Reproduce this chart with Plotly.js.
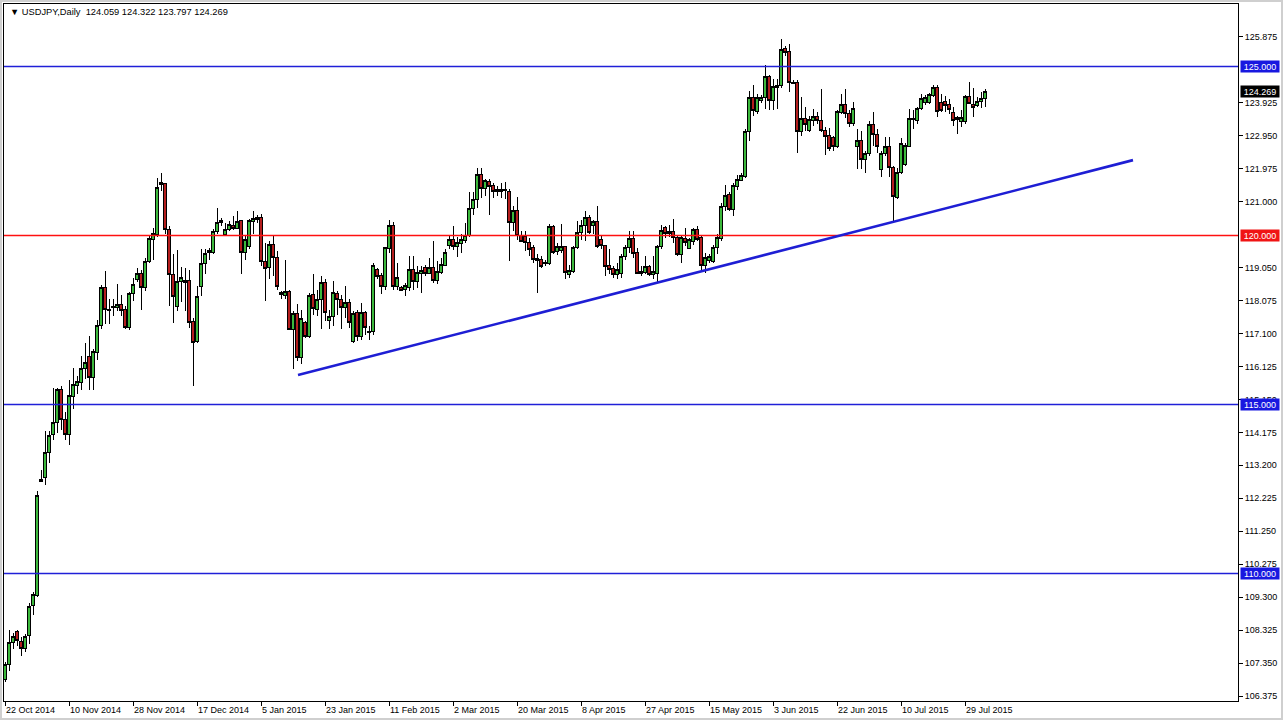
<!DOCTYPE html>
<html>
<head>
<meta charset="utf-8">
<script src="https://cdn.plot.ly/plotly-3.0.1.min.js"></script>
<style>
html,body{margin:0;padding:0;background:#cfcfcf;width:1283px;height:720px;overflow:hidden;}
#chart{position:absolute;left:2px;top:2px;width:1279px;height:716px;background:#fff;}
#chart .boxlayer path{shape-rendering:crispEdges;}
</style>
</head>
<body>
<div id="chart"></div>
<script>
const symbolName = "USDJPY,Daily";
const tickLabels = ["22 Oct 2014","10 Nov 2014","28 Nov 2014","17 Dec 2014","5 Jan 2015","23 Jan 2015","11 Feb 2015","2 Mar 2015","20 Mar 2015","8 Apr 2015","27 Apr 2015","15 May 2015","3 Jun 2015","22 Jun 2015","10 Jul 2015","29 Jul 2015"];
const tickBars = [0,16,32,48,64,80,96,112,128,144,160,176,192,208,224,240];

const open = [
106.86,107.31,107.95,108.27,107.99,107.78,108.16,109.05,109.36,112.71,
112.83,113.59,114.12,114.46,115.44,114.56,114.12,115.25,115.56,115.66,
116.06,116.41,115.79,116.55,117.34,118.47,117.79,117.86,117.88,117.96,
117.81,117.27,118.28,118.70,118.87,118.45,119.24,119.88,120.03,121.51,
121.54,120.18,118.85,117.91,118.65,118.60,118.68,117.46,116.87,118.48,
119.17,119.49,119.51,120.13,120.38,120.03,120.18,120.30,120.20,120.44,
119.51,119.67,120.42,120.47,120.52,119.24,119.04,119.73,119.34,118.30,
118.22,118.35,117.22,117.69,116.40,117.42,117.02,118.25,117.81,118.11,
118.60,117.49,117.61,118.28,118.11,117.86,118.01,116.87,117.71,117.02,
117.71,117.17,117.17,118.99,118.82,118.48,119.61,120.30,118.48,118.45,
118.40,118.45,118.99,118.65,118.89,119.06,118.89,119.06,118.68,118.91,
119.11,119.70,119.88,119.67,119.76,119.86,120.00,120.79,121.07,121.80,
121.38,121.61,121.48,121.36,121.36,121.33,121.31,120.39,120.75,120.00,
119.98,119.80,119.64,119.33,119.29,119.21,119.17,120.28,119.54,119.56,
119.67,118.85,118.94,119.64,120.08,120.30,120.52,120.30,120.42,119.88,
119.70,119.11,119.01,118.85,118.89,119.39,119.64,119.90,119.51,118.94,
118.91,119.07,118.85,118.89,119.67,120.23,120.06,120.13,119.93,119.44,
119.90,119.61,119.83,120.18,119.93,119.11,119.27,119.24,119.64,119.90,
120.87,121.21,120.77,121.46,121.64,121.76,123.09,124.09,123.68,123.98,
124.08,124.71,123.98,124.39,124.44,125.53,125.43,124.54,124.54,123.09,
123.45,123.12,123.40,123.52,123.40,123.12,122.96,122.89,122.63,123.65,
123.88,123.62,123.32,122.63,122.81,122.25,122.43,123.28,123.00,121.96,
122.43,122.63,122.01,121.12,121.86,122.10,122.64,123.42,123.40,123.77,
123.94,123.94,124.14,124.39,123.94,123.97,123.88,123.65,123.50,123.36,
123.36,124.11,123.88,123.84,123.97,124.059
];
const high = [
107.37,108.34,108.25,108.33,108.11,108.20,109.12,109.46,112.44,113.05,
114.21,114.21,115.49,115.49,115.54,114.77,115.73,116.09,115.84,116.43,
116.83,117.02,116.63,117.51,118.55,118.96,118.11,118.11,118.58,118.25,
117.91,118.32,118.75,119.04,118.99,119.34,119.98,120.23,121.71,121.86,
121.56,120.28,119.44,119.57,119.07,119.04,118.99,117.57,118.50,119.59,
119.61,119.64,120.18,120.82,120.52,120.38,120.42,120.59,120.72,120.47,
119.98,120.49,120.72,120.62,120.65,119.78,119.83,119.98,119.54,118.35,
119.29,118.40,117.76,117.96,117.81,117.46,118.30,118.85,118.40,118.80,
118.70,117.81,118.65,118.35,118.25,118.50,118.11,117.76,117.81,117.99,
117.76,117.32,119.19,119.04,118.90,119.67,120.47,120.39,119.19,118.50,
118.60,119.39,119.39,119.09,119.09,119.14,119.34,119.83,119.24,119.34,
119.59,119.98,120.28,119.96,120.03,120.38,121.28,121.28,122.00,122.00,
121.68,121.66,121.54,121.46,121.54,121.57,121.38,120.87,121.15,120.13,
120.13,119.93,119.73,119.44,119.39,119.29,120.33,120.30,119.78,120.33,
119.70,119.14,119.70,120.42,120.45,120.72,120.62,120.47,120.87,119.98,
119.73,119.59,119.09,119.19,119.44,119.73,120.13,120.13,119.64,119.09,
119.39,119.14,119.39,119.73,120.30,120.28,120.30,120.49,119.98,119.98,
120.23,119.93,120.23,120.28,119.98,119.49,119.44,119.73,120.03,120.97,
121.48,121.28,121.54,121.78,121.86,123.14,124.27,124.44,124.19,124.17,
125.04,124.74,124.64,124.62,125.82,125.62,125.67,124.59,124.59,124.09,
123.80,123.55,123.75,123.65,124.34,123.20,123.18,122.93,123.70,124.18,
124.34,123.70,123.95,123.16,123.09,122.51,123.40,123.65,123.16,122.51,
122.90,122.90,122.06,122.01,122.89,122.75,123.75,123.72,123.80,124.19,
124.16,124.21,124.44,124.44,124.19,124.14,124.05,123.80,123.55,123.72,
124.17,124.54,124.35,124.10,124.26,124.322
];
const low = [
106.78,107.11,107.76,107.86,107.57,107.67,107.91,108.78,109.31,112.70,
112.63,113.27,113.96,114.16,114.25,113.96,113.79,114.88,115.30,115.44,
115.74,115.44,115.44,116.33,117.22,117.37,117.37,117.61,117.76,117.61,
117.22,117.20,118.06,118.62,117.81,118.35,119.19,119.29,119.96,121.31,
120.03,117.91,117.42,117.76,118.03,117.76,117.27,115.54,116.82,118.22,
118.85,119.29,119.44,120.03,120.28,119.98,120.13,120.16,120.18,118.85,
119.29,119.61,120.03,120.38,119.09,118.06,118.70,118.80,118.40,118.11,
118.11,117.20,116.04,116.28,116.20,116.97,116.97,117.66,117.61,117.22,
117.46,117.22,117.32,117.66,117.22,117.56,117.27,116.82,116.87,116.92,
117.07,116.92,117.07,118.70,118.28,118.40,119.49,118.40,118.40,118.35,
118.20,118.35,118.40,118.45,118.30,118.80,118.85,118.60,118.58,118.85,
119.09,119.59,119.57,119.37,119.47,119.78,119.96,120.62,120.82,121.12,
121.18,120.62,121.12,121.18,121.12,121.09,119.24,120.13,119.88,119.80,
119.54,119.39,119.19,118.30,119.04,119.11,119.14,119.44,119.41,119.49,
118.70,118.75,118.89,119.59,119.88,119.83,120.03,120.03,119.64,119.59,
118.80,118.85,118.75,118.70,118.75,119.29,119.49,119.34,118.85,118.80,
118.85,118.80,118.70,118.60,119.59,119.93,119.96,119.78,119.39,119.19,
119.68,119.59,119.73,119.83,118.99,118.89,119.19,119.19,119.44,119.83,
120.72,120.72,120.59,121.36,121.61,121.71,122.79,123.55,123.60,123.93,
123.75,123.72,123.72,123.75,124.37,125.30,124.24,124.47,122.43,122.95,
123.10,123.05,123.25,123.30,123.05,122.37,122.49,122.49,122.59,123.58,
123.48,123.20,123.25,121.98,121.98,121.86,122.34,122.66,122.43,121.72,
122.34,121.74,120.42,121.07,121.81,122.05,122.62,123.16,123.30,123.72,
123.86,123.89,124.11,123.50,123.65,123.65,123.60,123.25,123.00,123.22,
123.30,123.88,123.50,123.80,123.77,123.797
];
const close = [
107.31,107.95,108.14,108.01,107.78,108.14,109.01,109.38,112.31,112.79,
113.59,114.09,114.46,115.44,114.56,114.12,115.28,115.59,115.69,116.06,
116.25,115.79,116.56,117.34,118.47,117.81,117.80,117.91,117.96,117.79,
117.27,118.28,118.55,118.87,118.45,119.24,119.91,120.06,121.41,121.58,
120.18,118.85,118.20,118.65,118.77,118.68,117.43,116.84,118.20,119.17,
119.46,119.56,120.13,120.38,120.44,120.18,120.33,120.20,120.42,119.51,
119.88,120.44,120.49,120.52,119.24,119.01,119.73,119.34,118.50,118.25,
118.35,117.22,117.69,116.40,117.54,117.02,118.22,117.83,118.11,118.60,
117.73,117.59,118.30,118.11,117.86,118.01,117.42,117.69,117.02,117.71,
117.27,117.12,119.11,118.80,118.48,119.64,120.30,118.50,118.75,118.38,
118.52,118.99,118.65,118.91,118.96,118.87,119.06,118.68,118.94,119.14,
119.51,119.88,119.67,119.78,119.88,120.00,120.79,121.07,121.80,121.38,
121.64,121.46,121.31,121.29,121.31,121.36,120.39,120.75,120.00,119.83,
119.78,119.59,119.29,119.27,119.09,119.17,120.28,119.49,119.66,119.67,
118.91,118.97,119.64,120.08,120.30,120.52,120.10,120.42,119.67,119.69,
119.09,118.99,118.85,118.99,119.39,119.64,119.90,119.47,118.89,118.88,
119.07,118.85,118.94,119.67,120.16,120.06,120.13,119.93,119.44,119.93,
119.78,119.88,120.18,119.88,119.11,119.34,119.37,119.64,119.93,120.87,
121.18,120.77,121.48,121.66,121.78,123.09,124.08,123.70,124.09,124.08,
124.71,123.98,124.41,124.44,125.50,125.40,124.54,124.51,123.09,123.45,
123.28,123.42,123.52,123.40,123.10,122.93,122.56,122.63,123.68,123.88,
123.60,123.32,123.75,122.81,122.25,122.43,123.28,123.00,122.63,122.43,
122.63,122.01,121.15,121.86,122.72,122.66,123.45,123.47,123.77,124.04,
124.07,124.17,124.37,123.68,123.70,123.85,123.72,123.40,123.42,123.49,
124.11,123.90,123.78,123.97,124.04,124.269
];

// horizontal levels
const blueLevels = [125, 115, 110];
const redLevels = [120];
// trendline anchors (bar index, price)
const trendX = [73.25, 282];
const trendY = [115.87, 122.23];
// price-scale ticks (124.900 and 120.025 sit fully under level boxes in the reference)
const yTickStart = 106.375, yTickStep = 0.975, yTickCount = 21;
const hiddenTicks = [124.9, 120.025];

const xRange = [-0.25, 308.25];
const yRange = [106.228, 126.849];

const bars = open.map((_, i) => i);
const yTicks = [];
for (let k = 0; k < yTickCount; k++) {
  const v = +(yTickStart + k * yTickStep).toFixed(3);
  if (!hiddenTicks.some(h => Math.abs(h - v) < 1e-6)) yTicks.push(v);
}

const FONT = "Liberation Sans, Arial, DejaVu Sans, sans-serif";
const lineBlue = "#2020d8", boxBlue = "#1818e0";
const lineRed = "#ff1010", boxRed = "#f01414";

const candles = {
  type: "candlestick",
  x: bars, open: open, high: high, low: low, close: close,
  increasing: {line: {color: "#000000", width: 1}, fillcolor: "#3cb83c"},
  decreasing: {line: {color: "#000000", width: 1}, fillcolor: "#b41e1e"},
  whiskerwidth: 0,
  hoverinfo: "skip",
  showlegend: false
};
function levelTrace(v, color, w) {
  return {type: "scatter", mode: "lines", x: xRange, y: [v, v],
    line: {color: color, width: w}, hoverinfo: "skip", showlegend: false};
}
const levelTraces = blueLevels.map(v => levelTrace(v, lineBlue, 1.3)).concat(redLevels.map(v => levelTrace(v, lineRed, 1.6)));
const trend = {
  type: "scatter", mode: "lines", x: trendX, y: trendY,
  line: {color: "#1e1ed4", width: 2.6}, hoverinfo: "skip", showlegend: false
};

const last = open.length - 1;
const annotations = [];
const boxX = (1240 - 4) / 1234;
function priceBox(v, bg) {
  annotations.push({xref: "paper", x: boxX, xanchor: "left", yref: "y", y: v, yanchor: "middle",
    text: v.toFixed(3), showarrow: false, bgcolor: bg, width: 38, height: 11, borderpad: 0,
    font: {family: FONT, size: 9, color: "#ffffff"}});
}
blueLevels.forEach(v => priceBox(v, boxBlue));
redLevels.forEach(v => priceBox(v, boxRed));
priceBox(close[last], "#000000");

annotations.push({xref: "paper", x: (8 - 4) / 1234, xanchor: "left", yref: "paper", y: (701 - 12) / 697, yanchor: "middle",
  showarrow: false,
  text: "▼ " + symbolName + "\u00a0\u00a0" + [open[last], high[last], low[last], close[last]].map(v => v.toFixed(3)).join(" "),
  font: {family: FONT, size: 9.3, color: "#000000"}});

const layout = {
  width: 1279, height: 716,
  margin: {l: 2, r: 43, t: 2, b: 17, pad: 0},
  paper_bgcolor: "#ffffff", plot_bgcolor: "#ffffff",
  showlegend: false, hovermode: false, dragmode: false,
  boxgap: 0.22,
  font: {family: FONT, size: 9, color: "#000"},
  xaxis: {
    type: "linear", range: xRange,
    tickvals: tickBars, ticktext: tickLabels,
    ticks: "outside", ticklen: 4, tickcolor: "#000", tickwidth: 1,
    ticklabelposition: "outside right",
    tickfont: {family: FONT, size: 9, color: "#000"},
    showline: true, linecolor: "#000", linewidth: 1, mirror: true,
    showgrid: false, zeroline: false,
    rangeslider: {visible: false}, fixedrange: true
  },
  yaxis: {
    side: "right", range: yRange,
    tickvals: yTicks, tickformat: ".3f",
    ticks: "outside", ticklen: 4, tickcolor: "#000", tickwidth: 1,
    tickfont: {family: FONT, size: 9, color: "#000"},
    showline: true, linecolor: "#000", linewidth: 1, mirror: true,
    showgrid: false, zeroline: false, fixedrange: true
  },
  annotations: annotations
};

Plotly.newPlot("chart", [candles].concat(levelTraces, [trend]), layout, {displayModeBar: false, staticPlot: true});
</script>
</body>
</html>
